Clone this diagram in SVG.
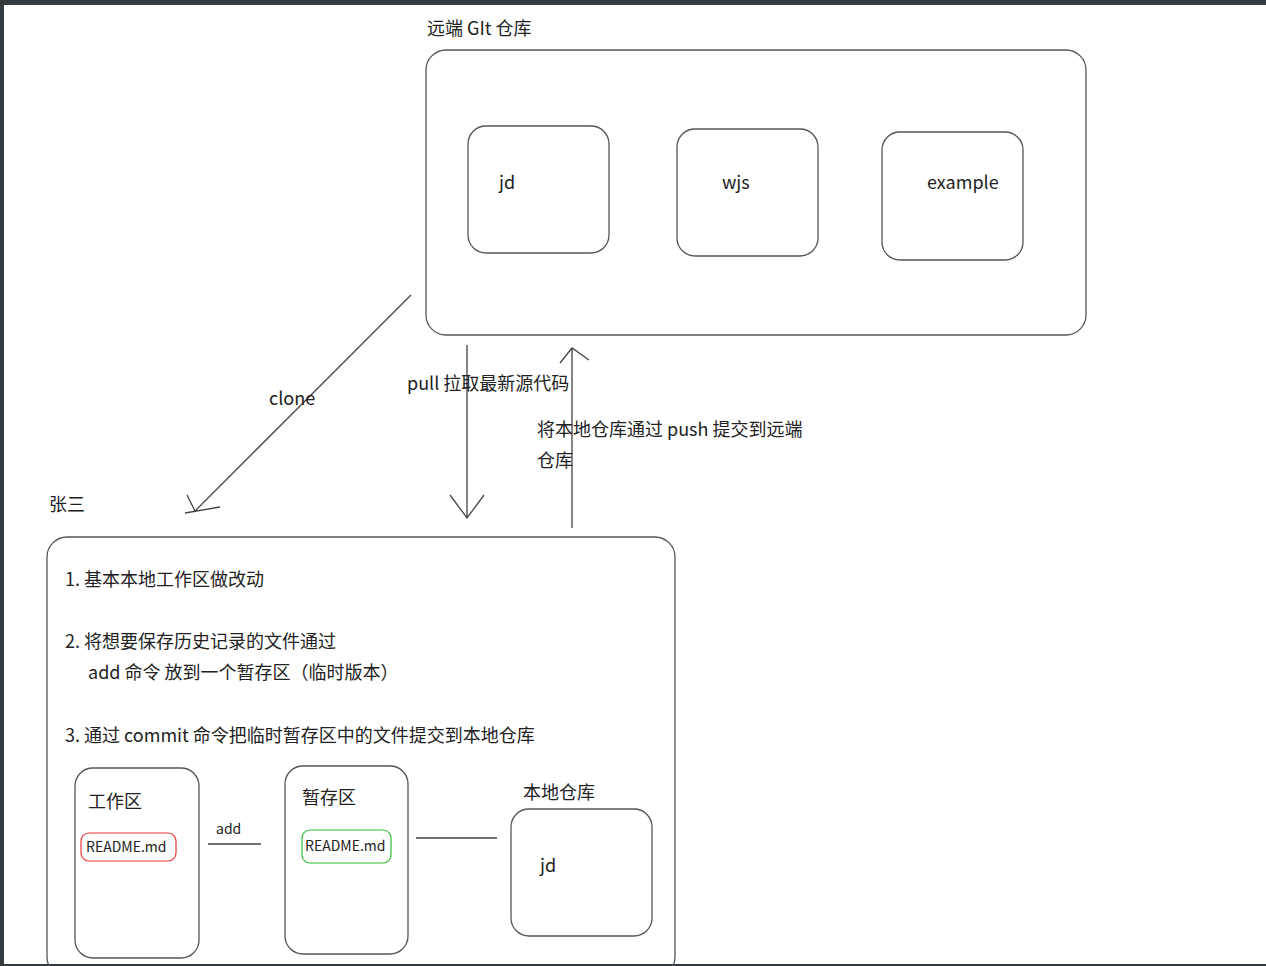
<svg xmlns="http://www.w3.org/2000/svg" width="1266" height="966" viewBox="0 0 1266 966">
<style>
.b{fill:none;stroke:#555;stroke-width:1.3}
.l{fill:none;stroke:#444;stroke-width:1.3}
text{font-family:"Microsoft YaHei","Noto Sans CJK SC","Noto Sans",sans-serif;font-size:18px;fill:#222}
.s{font-size:14px}
</style>
<rect width="1266" height="966" fill="#fff"/>
<rect x="0" y="0" width="1266" height="5" fill="#343a40"/>
<rect x="0" y="0" width="4" height="966" fill="#343a40"/>
<rect x="0" y="964" width="1266" height="2" fill="#343a40"/>
<g id="remote"><text x="427" y="35">远端 GIt 仓库</text><rect class="b" x="426" y="50" width="660" height="285" rx="20"/></g>
<g id="jd"><rect class="b" x="468" y="126" width="141" height="127" rx="18"/><text x="499" y="189">jd</text></g>
<g id="wjs"><rect class="b" x="677" y="129" width="141" height="127" rx="18"/><text x="722" y="189">wjs</text></g>
<g id="example"><rect class="b" x="882" y="132" width="141" height="128" rx="18"/><text x="927" y="189">example</text></g>
<g id="zhangsan"><text x="49" y="511">张三</text><rect class="b" x="47" y="537" width="628" height="440" rx="20"/>
<text x="65" y="586">1. 基本本地工作区做改动</text>
<text x="65" y="648">2. 将想要保存历史记录的文件通过</text>
<text x="88" y="679">add 命令 放到一个暂存区（临时版本）</text>
<text x="65" y="742">3. 通过 commit 命令把临时暂存区中的文件提交到本地仓库</text></g>
<g id="work"><rect class="b" x="75" y="768" width="124" height="190" rx="18"/><text x="88" y="808">工作区</text>
<rect x="81" y="833" width="95" height="28" rx="8" fill="none" stroke="#e33" stroke-width="1.2"/><text class="s" x="86" y="852">README.md</text></g>
<g id="stage"><rect class="b" x="285" y="766" width="123" height="188" rx="18"/><text x="302" y="804">暂存区</text>
<rect x="302" y="830" width="89" height="33" rx="8" fill="none" stroke="#3b3" stroke-width="1.2"/><text class="s" x="305" y="851">README.md</text></g>
<g id="local"><text x="523" y="799">本地仓库</text><rect class="b" x="511" y="809" width="141" height="127" rx="18"/><text x="540" y="872">jd</text></g>
<g id="connectors">
<path class="l" d="M411 295 L195 511 M187 495 L195 511 M185 513 L220 507"/>
<path class="l" d="M467 345 V518 M450 495 L467 518 L484 495"/>
<path class="l" d="M572 528 V348 M560 363 L572 348 L589 360"/>
<path class="l" d="M208 844 H261 M416 838 H497"/>
<text x="269" y="405">clone</text>
<text x="407" y="390">pull 拉取最新源代码</text>
<text x="537" y="436">将本地仓库通过 push 提交到远端</text>
<text x="537" y="467">仓库</text>
<text class="s" x="216" y="834">add</text>
</g>
</svg>
